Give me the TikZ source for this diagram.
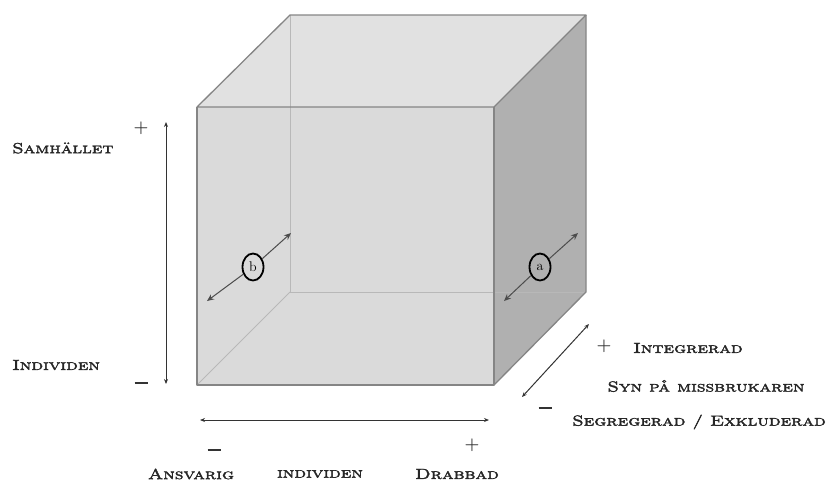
\documentclass[tikz,border=0pt]{standalone}
\usepackage{fontspec}
\usetikzlibrary{arrows.meta}
\usetikzlibrary{shapes.geometric}
\newfontfamily\capsfont[FakeStretch=1.3,FakeBold=2.5]{lmromancaps10-regular.otf}
\definecolor{topgray}{HTML}{E1E1E1}
\definecolor{frontgray}{HTML}{DADADA}
\definecolor{sidegray}{HTML}{B0B0B0}
\definecolor{edgegray}{HTML}{858585}
\definecolor{hidgray}{HTML}{B8B8B8}
\tikzset{
  axislabel/.style={font=\capsfont\fontsize{14.5}{16}\selectfont, text=black!85, inner sep=0pt},
  sign/.style={font=\fontsize{17}{18}\selectfont\bfseries, text=black!80, inner sep=0pt},
  axisarrow/.style={color=black!80, line width=1pt, {Stealth[length=5pt,width=4pt]}-{Stealth[length=5pt,width=4pt]}},
  smallarrow/.style={color=black!70, line width=1pt, -{Stealth[length=7pt,width=6pt]}},
  markring/.style={draw=black, line width=1.8pt, ellipse, minimum width=21pt, minimum height=27pt, inner sep=0pt, font=\fontsize{14}{14}\selectfont},
}
\newcommand{\minussign}{\rule[0pt]{13pt}{1.8pt}}
\begin{document}
\begin{tikzpicture}[%
      x=1pt, y=-1pt,
      ]
      \useasboundingbox (0,0) rectangle (830,483);
      % cube corners
      \coordinate (fbl) at (197,385);
      \coordinate (fbr) at (494,385);
      \coordinate (ftl) at (197,107);
      \coordinate (ftr) at (494,107);
      \coordinate (bbl) at (290,292);
      \coordinate (bbr) at (586,292);
      \coordinate (btl) at (290,15);
      \coordinate (btr) at (586,15);

      \fill [color=topgray] (ftl) -- (btl) -- (btr) -- (ftr) -- cycle;
      \fill [color=frontgray] (ftl) -- (ftr) -- (fbr) -- (fbl) -- cycle;
      \fill [color=sidegray] (ftr) -- (btr) -- (bbr) -- (fbr) -- cycle;

      \draw [color=hidgray, line width=0.8pt] (btl) -- (bbl) -- (bbr);
      \draw [color=hidgray, line width=0.8pt] (bbl) -- (fbl);

      \draw [color=edgegray, line width=1.3pt, line join=round] (ftl) -- (btl) -- (btr) -- (ftr) -- cycle;
      \draw [color=edgegray, line width=1.3pt, line join=round] (ftl) -- (fbl) -- (fbr) -- (ftr);
      \draw [color=edgegray, line width=1.3pt, line join=round] (btr) -- (bbr) -- (fbr);

      % markers b and a
      \node [markring] (ringb) at (253,267) {b};
      \node [markring] (ringa) at (540,267) {a};
      \coordinate (bup) at (291,233);
      \coordinate (bdown) at (207,301);
      \coordinate (aup) at (578,233);
      \coordinate (adown) at (504,301);
      \draw [smallarrow] (ringb) -- (bup);
      \draw [smallarrow] (ringb) -- (bdown);
      \draw [smallarrow] (ringa) -- (aup);
      \draw [smallarrow] (ringa) -- (adown);

      % vertical axis
      \coordinate (vtop) at (166,122);
      \coordinate (vbot) at (166,384);
      \draw [axisarrow] (vtop) -- (vbot);
      \node [sign] (vplus) at (141,128) {+};
      \node [sign] (vminus) at (141,383) {\minussign};
      \node [axislabel, anchor=west] (samh) at (12,148) {Samhället};
      \node [axislabel, anchor=west] (indiv) at (12,365) {Individen};

      % horizontal axis
      \coordinate (hleft) at (200,420);
      \coordinate (hright) at (489,420);
      \draw [axisarrow] (hleft) -- (hright);
      \node [sign] (hminus) at (214,450) {\minussign};
      \node [sign] (hplus) at (472,445) {+};
      \node [axislabel] (ansv) at (191,474) {Ansvarig};
      \node [axislabel] (indiv2) at (320,474) {individen};
      \node [axislabel] (drab) at (457,474) {Drabbad};

      % depth axis
      \coordinate (dlow) at (522,397);
      \coordinate (dhigh) at (589,324);
      \draw [axisarrow] (dlow) -- (dhigh);
      \node [sign] (dplus) at (604,346) {+};
      \node [sign] (dminus) at (545,408) {\minussign};
      \node [axislabel, anchor=west] (integ) at (633,348) {Integrerad};
      \node [axislabel] (syn) at (706,386) {Syn på missbrukaren};
      \node [axislabel, anchor=west] (segr) at (572,422) {Segregerad / Exkluderad};
\end{tikzpicture}
\end{document}
